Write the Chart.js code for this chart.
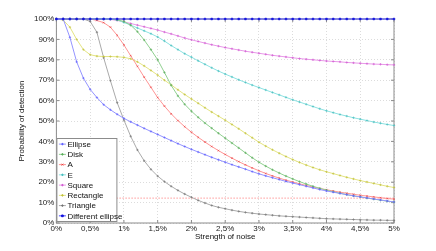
<!DOCTYPE html>
<html>
<head>
<meta charset="utf-8">
<script src="https://cdn.jsdelivr.net/npm/chart.js@4.4.1/dist/chart.umd.min.js"></script>
<style>
  html, body { margin: 0; padding: 0; background: #fff; }
  #wrap { width: 436px; height: 251px; }
</style>
</head>
<body>
<div id="wrap"><canvas id="chart" width="436" height="251"></canvas></div>
<script>
// strength of noise in %
var noise = [0, 0.1, 0.2, 0.3, 0.4, 0.5, 0.6, 0.7, 0.8, 0.9,
  1.0, 1.1, 1.2, 1.3, 1.4, 1.5, 1.6, 1.7, 1.8, 1.9,
  2.0, 2.1, 2.2, 2.3, 2.4, 2.5, 2.6, 2.7, 2.8, 2.9,
  3.0, 3.1, 3.2, 3.3, 3.4, 3.5, 3.6, 3.7, 3.8, 3.9,
  4.0, 4.1, 4.2, 4.3, 4.4, 4.5, 4.6, 4.7, 4.8, 4.9, 5.0];

// probability of detection in %
var ellipse = [100, 100, 91, 79, 71, 65.5, 61.5, 58, 55.5, 53.3,
  51.3, 49.6, 48, 46.4, 44.9, 43.4, 41.9, 40.4, 38.9, 37.5,
  36.1, 34.8, 33.5, 32.2, 31, 29.8, 28.6, 27.5, 26.4, 25.2,
  24.1, 23.1, 22.2, 21.3, 20.4, 19.6, 18.8, 18, 17.2, 16.4,
  15.7, 15.1, 14.5, 13.9, 13.3, 12.8, 12.3, 11.8, 11.3, 10.8, 10.3];
var disk = [100, 100, 100, 100, 100, 100, 100, 100, 100, 99.6,
  98.8, 97, 93.8, 89.7, 85, 80, 73.8, 67.5, 62.3, 58.2,
  54.8, 51.8, 49, 46.5, 44, 41.6, 39.2, 36.8, 34.4, 32,
  29.8, 27.9, 26.1, 24.5, 23, 21.6, 20.3, 19.1, 18, 17,
  16.1, 15.3, 14.6, 13.9, 13.3, 12.8, 12.2, 11.7, 11.2, 10.7, 10.3];
var letterA = [100, 100, 100, 100, 100, 100, 99.3, 98.2, 96, 92,
  87.3, 82, 76.8, 71.5, 66.5, 61.5, 57.3, 53.5, 50.2, 47.2,
  44.5, 42, 39.7, 37.5, 35.5, 33.6, 31.8, 30.1, 28.5, 27,
  25.6, 24.3, 23.1, 22, 21, 20.1, 19.2, 18.4, 17.6, 16.9,
  16.3, 15.7, 15.1, 14.6, 14.1, 13.6, 13.2, 12.8, 12.4, 12, 11.7];
var letterE = [100, 100, 100, 100, 100, 100, 100, 100, 100, 99.5,
  98.3, 97, 95.6, 94.2, 92.8, 91.2, 89.2, 87, 85, 83,
  81.3, 79.5, 77.8, 76.1, 74.5, 73, 71.6, 70.2, 68.9, 67.6,
  66.4, 65.2, 64, 62.8, 61.6, 60.4, 59.3, 58.2, 57.1, 56,
  55, 54.1, 53.2, 52.4, 51.6, 50.9, 50.2, 49.5, 48.9, 48.3, 47.8];
var square = [100, 100, 100, 100, 100, 100, 100, 100, 99.8, 99.3,
  98.6, 97.8, 97, 96.2, 95.4, 94.6, 93.6, 92.7, 91.7, 90.7,
  89.8, 89, 88.2, 87.4, 86.7, 86, 85.4, 84.8, 84.2, 83.7,
  83.2, 82.7, 82.2, 81.8, 81.4, 81, 80.6, 80.3, 80, 79.7,
  79.4, 79.2, 79, 78.7, 78.5, 78.3, 78.1, 77.9, 77.8, 77.6, 77.5];
var rectangle = [100, 99.5, 96, 90, 85, 82.5, 81.8, 81.6, 81.6, 81.5,
  81.2, 80.5, 79, 77, 74.8, 72.5, 70, 67.7, 65.3, 63,
  60.8, 58.7, 56.5, 54.4, 52.4, 50.4, 48.3, 46.2, 44, 41.8,
  39.6, 37.7, 35.9, 34.2, 32.6, 31.1, 29.7, 28.4, 27.2, 26.1,
  25.1, 24.2, 23.3, 22.4, 21.6, 20.8, 20.1, 19.4, 18.7, 18, 17.4];
var triangle = [100, 100, 100, 100, 100, 98.8, 93.5, 81, 69.8, 59,
  50.5, 42.5, 35.8, 30.5, 26.3, 23, 20.3, 18, 16, 14.2,
  12.6, 11.1, 9.8, 8.6, 7.7, 7, 6.3, 5.7, 5.2, 4.8,
  4.4, 4.1, 3.8, 3.5, 3.3, 3.1, 2.9, 2.7, 2.5, 2.3,
  2.1, 2, 1.9, 1.8, 1.7, 1.6, 1.5, 1.4, 1.4, 1.3, 1.3];
var differentEllipse = [100, 100, 100, 100, 100, 100, 100, 100, 100, 100,
  100, 100, 100, 100, 100, 100, 100, 100, 100, 100,
  100, 100, 100, 100, 100, 100, 100, 100, 100, 100,
  100, 100, 100, 100, 100, 100, 100, 100, 100, 100,
  100, 100, 100, 100, 100, 100, 100, 100, 100, 100, 100];

// dotted threshold line
var thresholdX = [0, 5];
var thresholdY = [12.2, 12.2];

var xTicks = [0, 0.5, 1, 1.5, 2, 2.5, 3, 3.5, 4, 4.5, 5];
var yTicks = [0, 10, 20, 30, 40, 50, 60, 70, 80, 90, 100];

var font = "'Liberation Sans Narrow', 'Liberation Sans', Arial, sans-serif";

function pts(xs, ys) {
  return xs.map(function (x, i) { return { x: x, y: ys[i] }; });
}

function series(label, values, line, mark, style, order) {
  return {
    label: label,
    data: pts(noise, values),
    borderColor: line,
    borderWidth: 1,
    backgroundColor: mark,
    pointBorderColor: mark,
    pointBackgroundColor: mark,
    pointStyle: style,
    pointRadius: 1.2,
    pointBorderWidth: 0.6,
    tension: 0,
    clip: false,
    order: order
  };
}

var datasets = [
  series('Ellipse', ellipse, '#9494ff', '#5c5cff', 'cross', 5),
  series('Disk', disk, '#90d090', '#55aa55', 'cross', 5),
  series('A', letterA, '#ff9494', '#e84040', 'crossRot', 5),
  series('E', letterE, '#8ce2e2', '#45bcbc', 'cross', 5),
  series('Square', square, '#e898e8', '#d055d0', 'cross', 5),
  series('Rectangle', rectangle, '#e4e482', '#c0c035', 'cross', 5),
  series('Triangle', triangle, '#aaaaaa', '#707070', 'cross', 5),
  series('Different ellipse', differentEllipse, '#4444ff', '#1010dd', 'rect', 0),
  {
    label: '',
    data: pts(thresholdX, thresholdY),
    borderColor: '#ff9a9a',
    borderWidth: 1,
    borderDash: [1.5, 1.5],
    pointRadius: 0,
    order: 9
  }
];

var frame = {
  id: 'frame',
  beforeDatasetsDraw: function (chart) {
    var a = chart.chartArea, c = chart.ctx;
    var xs = chart.scales.x, ys = chart.scales.y;
    c.save();
    c.strokeStyle = '#8c8c8c';
    c.lineWidth = 1;
    c.strokeRect(a.left, a.top, a.right - a.left, a.bottom - a.top);
    c.beginPath();
    yTicks.forEach(function (v) {
      var y = ys.getPixelForValue(v);
      c.moveTo(a.left, y); c.lineTo(a.left + 3, y);
      c.moveTo(a.right, y); c.lineTo(a.right - 3, y);
    });
    xTicks.forEach(function (v) {
      var x = xs.getPixelForValue(v);
      c.moveTo(x, a.bottom); c.lineTo(x, a.bottom - 3);
      c.moveTo(x, a.top); c.lineTo(x, a.top + 3);
    });
    c.stroke();
    c.restore();
  }
};

var legendBox = {
  id: 'legendBox',
  afterDatasetsDraw: function (chart) {
    var a = chart.chartArea, c = chart.ctx;
    var items = chart.data.datasets.filter(function (d) { return d.label; });
    var w = 60, row = 10.25, h = items.length * row + 1;
    var x0 = a.left + 0.5, y0 = a.bottom - 1.5 - h;
    c.save();
    c.fillStyle = '#fff';
    c.fillRect(x0, y0, w, h);
    c.strokeStyle = '#8c8c8c';
    c.lineWidth = 1;
    c.strokeRect(x0, y0, w, h);
    c.font = '8px ' + font;
    c.textBaseline = 'middle';
    items.forEach(function (d, i) {
      var y = y0 + 5.6 + i * row;
      c.strokeStyle = d.borderColor;
      c.lineWidth = 1;
      c.beginPath();
      c.moveTo(x0 + 2, y); c.lineTo(x0 + 9, y);
      c.stroke();
      c.strokeStyle = d.pointBorderColor;
      c.fillStyle = d.pointBackgroundColor;
      Chart.helpers.drawPoint(c, {
        pointStyle: d.pointStyle, radius: 1.2, borderWidth: 0.6, rotation: 0
      }, x0 + 5.5, y);
      c.fillStyle = '#111';
      c.fillText(d.label, x0 + 10.5, y + 0.5);
    });
    c.restore();
  }
};

new Chart(document.getElementById('chart'), {
  type: 'line',
  data: { datasets: datasets },
  options: {
    responsive: false,
    animation: false,
    layout: { padding: { left: 13, right: 42, top: 19, bottom: 0 } },
    plugins: {
      legend: { display: false },
      tooltip: { enabled: false }
    },
    scales: {
      x: {
        type: 'linear',
        min: 0,
        max: 5,
        afterBuildTicks: function (s) { s.ticks = xTicks.map(function (v) { return { value: v }; }); },
        afterFit: function (s) { s.height = 28; },
        ticks: {
          autoSkip: false,
          maxRotation: 0,
          padding: 1,
          color: '#222',
          font: { family: font, size: 8 },
          callback: function (v) { return String(v).replace('.', ',') + '%'; }
        },
        grid: { color: '#dcdcdc', lineWidth: 1, drawTicks: false },
        border: { display: false, dash: [1, 2] },
        title: {
          display: true,
          text: 'Strength of noise',
          color: '#111',
          font: { family: font, size: 8 },
          padding: { top: 0, bottom: 9 }
        }
      },
      y: {
        min: 0,
        max: 100,
        afterBuildTicks: function (s) { s.ticks = yTicks.map(function (v) { return { value: v }; }); },
        afterFit: function (s) { s.width = 43.4; },
        ticks: {
          padding: 2,
          color: '#222',
          font: { family: font, size: 8 },
          callback: function (v) { return v + '%'; }
        },
        grid: { color: '#dcdcdc', lineWidth: 1, drawTicks: false },
        border: { display: false, dash: [1, 2] },
        title: {
          display: true,
          text: 'Probability of detection',
          color: '#111',
          font: { family: font, size: 8 },
          padding: { top: 4, bottom: 0 }
        }
      }
    }
  },
  plugins: [frame, legendBox]
});
</script>
</body>
</html>
